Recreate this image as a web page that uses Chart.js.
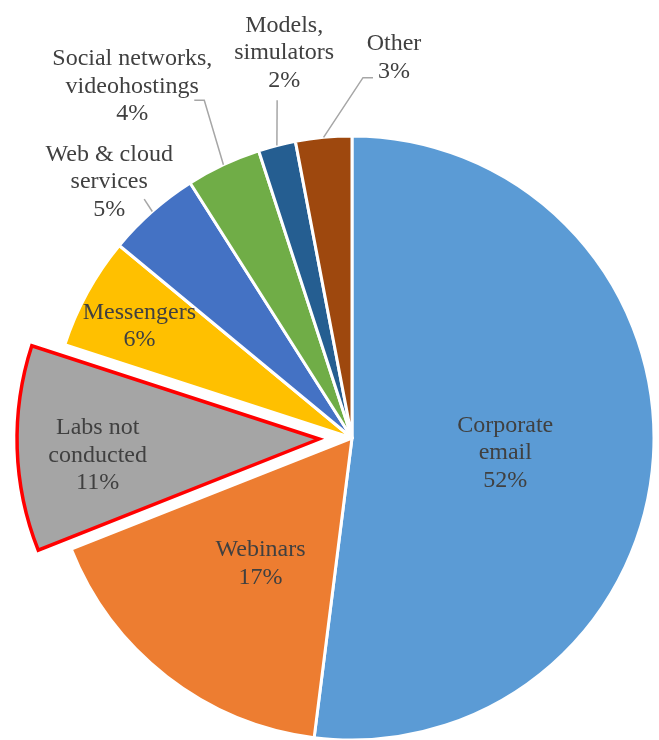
<!DOCTYPE html>
<html><head><meta charset="utf-8">
<script src="https://cdn.jsdelivr.net/npm/chart.js@4/dist/chart.umd.min.js"></script>
<style>html,body{margin:0;padding:0;background:#fff}#wrap{width:659px;height:740px;position:relative}</style>
</head><body><div id="wrap"><canvas id="c"></canvas></div>
<script>
// ---- data ----
const categories = ["Corporate email","Webinars","Labs not conducted","Messengers","Web & cloud services","Social networks, videohostings","Models, simulators","Other"];
const labelLines = [["Corporate","email"],["Webinars"],["Labs not","conducted"],["Messengers"],["Web & cloud","services"],["Social networks,","videohostings"],["Models,","simulators"],["Other"]];
const values = [52,17,11,6,5,4,2,3];
const percentLabels = ["52%","17%","11%","6%","5%","4%","2%","3%"];

// ---- style ----
const colors = ["#5B9BD5","#ED7D31","#A5A5A5","#FFC000","#4472C4","#70AD47","#255E91","#9E480E"];
const borderColors = ["#fff","#fff","#FF0000","#fff","#fff","#fff","#fff","#fff"];
const borderWidths = [3,3,3.5,3,3,3,3,3];
const explode = [0,0,33,0,0,0,0,0];
// label placement: distance (fraction of radius) and angular shift (deg) from slice mid-angle
const labelDist  = [0.51,0.515,0.735,0.795,1.168,1.373,1.294,1.267];
const labelShift = [2,-1.8,-2.5,-1.1,-2.1,-6.8,4.4,11.7];
// leader lines: [startDx, startDy, stubDx] relative to label centre (null = none)
const leaders = [null,null,null,null,[35,17,null],[62,14,72],[-7,47,null],[-21,20,-31]];
const FONT = '24px "Liberation Serif", "Times New Roman", serif';
const LINE_H = 27.5;
const TEXT_COLOR = "#404040";
const LEADER_COLOR = "#A6A6A6";

const explodePlugin = {
  id:'explode',
  beforeDatasetsDraw(chart){
    chart.getDatasetMeta(0).data.forEach((arc,i)=>{
      if (arc._patched || !explode[i]) return;
      const d = explode[i];
      const orig = arc.draw;
      arc.draw = function(ctx){
        const a = (this.startAngle+this.endAngle)/2;
        ctx.save();
        ctx.translate(Math.cos(a)*d, Math.sin(a)*d);
        orig.call(this, ctx);
        ctx.restore();
      };
      arc._patched = true;
    });
  }
};

const labelPlugin = {
  id:'pieLabels',
  afterDatasetsDraw(chart){
    const ctx = chart.ctx;
    ctx.save();
    ctx.font = FONT;
    ctx.textAlign = 'center';
    ctx.textBaseline = 'middle';
    chart.getDatasetMeta(0).data.forEach((arc,i)=>{
      const mid = (arc.startAngle+arc.endAngle)/2;
      const R = arc.outerRadius;
      const ex = Math.cos(mid)*explode[i], ey = Math.sin(mid)*explode[i];
      const a = mid + labelShift[i]*Math.PI/180;
      const cx = arc.x + ex + Math.cos(a)*labelDist[i]*R;
      const cy = arc.y + ey + Math.sin(a)*labelDist[i]*R;
      const lines = labelLines[i].concat([percentLabels[i]]);
      const top = cy - (lines.length-1)*LINE_H/2;
      ctx.fillStyle = TEXT_COLOR;
      lines.forEach((t,k)=>ctx.fillText(t, cx, top + k*LINE_H));
      const L = leaders[i];
      if (L){
        const px = arc.x + ex + Math.cos(mid)*R;
        const py = arc.y + ey + Math.sin(mid)*R;
        ctx.beginPath();
        ctx.strokeStyle = LEADER_COLOR;
        ctx.lineWidth = 1.5;
        ctx.moveTo(cx+L[0], cy+L[1]);
        if (L[2] !== null) ctx.lineTo(cx+L[2], cy+L[1]);
        ctx.lineTo(px, py);
        ctx.stroke();
      }
    });
    ctx.restore();
  }
};

new Chart(document.getElementById('c'), {
  type:'pie',
  data:{
    labels: categories,
    datasets:[{
      data: values,
      backgroundColor: colors,
      borderColor: borderColors,
      borderWidth: borderWidths,
      borderJoinStyle: ['round','round','miter','round','round','round','round','round']
    }]
  },
  options:{
    responsive:true,
    maintainAspectRatio:false,
    animation:false,
    radius: 302,
    layout:{padding:{left:45,right:0,top:136,bottom:0}},
    plugins:{legend:{display:false},tooltip:{enabled:false}}
  },
  plugins:[explodePlugin,labelPlugin]
});
</script>
</body></html>
